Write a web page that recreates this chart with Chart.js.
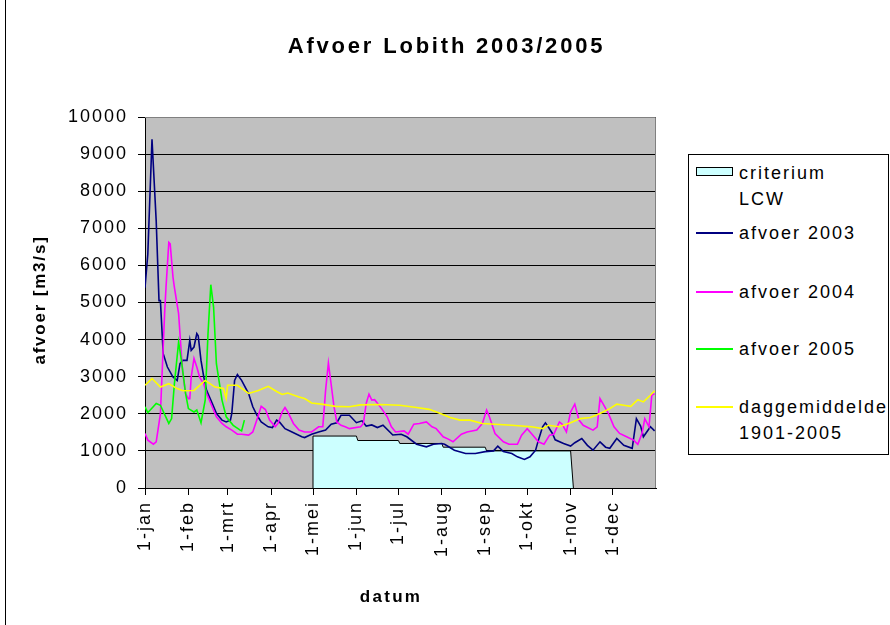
<!DOCTYPE html>
<html>
<head>
<meta charset="utf-8">
<script src="https://cdn.jsdelivr.net/npm/chart.js@4.4.0/dist/chart.umd.min.js"></script>
<style>
  body { margin: 0; background: #fff; }
  #wrap { position: relative; width: 890px; height: 625px; font-family: "Liberation Sans", Arial, sans-serif; }
  #frame { position: absolute; left: 5px; top: 0; height: 625px; border-left: 1px solid #000; }
  #legend { position: absolute; left: 688px; top: 154px; width: 201px; height: 301px; border: 1px solid #000; box-sizing: border-box; background: #fff; }
  .lbl { position: absolute; left: 50px; font-size: 18px; letter-spacing: 2px; line-height: 26px; color: #000; white-space: nowrap; }
  .sw { position: absolute; left: 7px; width: 37px; }
</style>
</head>
<body>
<div id="wrap">
  <canvas id="myChart" width="890" height="625"></canvas>
  <div id="frame"></div>
  <div id="legend"></div>
</div>
<script>
// day of year (0 = 1 jan) and discharge in m3/s
const monthStarts = [0, 31, 59, 90, 120, 151, 181, 212, 243, 273, 304, 334];
const monthLabels = ['1-jan', '1-feb', '1-mrt', '1-apr', '1-mei', '1-jun', '1-jul', '1-aug', '1-sep', '1-okt', '1-nov', '1-dec'];

const critDays = [120, 120, 151, 152, 181, 182, 212, 213, 243, 244, 304, 306];
const critVals = [0, 1400, 1400, 1280, 1280, 1200, 1200, 1100, 1100, 1000, 1000, 0];

const days2003 = [0, 2, 5, 8, 10, 11, 13, 16, 20, 23, 25, 27, 30, 32, 33, 35, 37, 38, 40, 42, 44, 48, 51, 55, 58, 61, 62, 64, 66, 69,
  74, 77, 80, 83, 88, 91, 94, 96, 100, 105, 112, 114, 119, 124, 129, 133, 137, 140, 146, 151, 155, 158, 162, 166, 170, 177,
  183, 187, 194, 201, 206, 212, 214, 221, 229, 236, 243, 249, 252, 256, 262, 266, 271, 275, 279, 281, 284, 286, 288, 291,
  293, 299, 304, 307, 312, 316, 320, 325, 329, 332, 337, 342, 348, 351, 354, 356, 361, 364];
const q2003 = [5400, 6300, 9400, 7200, 5050, 5050, 3620, 3260, 2990, 2900, 3350, 3440, 3440, 3980, 3710, 3800, 4160, 4100, 3440, 2990,
  2630, 2280, 2010, 1830, 1780, 1830, 2010, 2900, 3060, 2900, 2545, 2190, 1960, 1780, 1650, 1630, 1830, 1780, 1600, 1510,
  1380, 1360, 1450, 1510, 1560, 1720, 1760, 1960, 1960, 1760, 1810, 1670, 1700, 1630, 1690, 1430, 1450, 1380, 1180, 1110,
  1180, 1200, 1180, 1020, 930, 930, 980, 1000, 1130, 980, 930, 840, 770, 840, 1020, 1290, 1650, 1755, 1650, 1470,
  1300, 1200, 1130, 1220, 1335, 1150, 1020, 1245, 1100, 1070, 1335, 1150, 1070, 1870, 1670, 1380, 1650, 1540];

const days2004 = [0, 2, 6, 8, 11, 12, 14, 15, 17, 18, 20, 21, 24, 26, 27, 29, 31, 32, 33, 35, 37, 39, 42, 44, 48, 51, 55, 58, 62, 66,
  69, 74, 77, 81, 83, 86, 89, 93, 95, 98, 100, 102, 106, 110, 114, 119, 124, 127, 129, 131, 132, 135, 137, 140, 143, 146,
  154, 156, 158, 160, 162, 164, 169, 173, 176, 179, 185, 188, 192, 196, 201, 205, 208, 213, 217, 220, 226, 230, 237, 241,
  244, 246, 250, 256, 260, 266, 269, 273, 276, 281, 285, 289, 292, 296, 298, 301, 304, 307, 310, 313, 320, 323, 325, 327,
  331, 335, 339, 344, 349, 352, 355, 357, 360, 362, 364];
const q2004 = [1470, 1290, 1180, 1245, 2000, 2900, 4700, 5400, 6620, 6580, 5680, 5410, 4700, 3600, 3080, 2545, 2410, 2410, 2990, 3490,
  3260, 2990, 2810, 2545, 2190, 1920, 1740, 1650, 1560, 1450, 1450, 1425, 1510, 1960, 2200, 2115, 1830, 1650, 1740, 2050,
  2170, 2050, 1740, 1560, 1510, 1510, 1650, 1650, 2630, 3370, 3080, 2190, 1780, 1690, 1650, 1600, 1650, 1740, 2280, 2530,
  2370, 2380, 2140, 1920, 1650, 1510, 1540, 1450, 1720, 1740, 1780, 1650, 1600, 1380, 1310, 1245, 1450, 1510, 1560, 1740,
  2100, 1920, 1470, 1245, 1180, 1180, 1425, 1600, 1470, 1245, 1180, 1425, 1450, 1780, 1720, 1510, 2050, 2260, 1830, 1690,
  1560, 1650, 2410, 2280, 2010, 1650, 1470, 1380, 1290, 1180, 1470, 1870, 1650, 2500, 2545];

const days2005 = [0, 2, 8, 11, 17, 19, 21, 24, 26, 29, 31, 35, 37, 40, 43, 45, 47, 49, 51, 55, 58, 63, 68, 69, 71];
const q2005 = [2190, 2030, 2280, 2230, 1740, 1870, 2810, 3930, 3440, 2545, 2140, 2050, 2100, 1760, 2370, 4160, 5480, 4870, 3350, 2370,
  1920, 1690, 1560, 1540, 1830];

const daysMean = [0, 5, 11, 17, 23, 27, 35, 43, 50, 56, 58, 59, 66, 74, 81, 88, 94, 98, 102, 110, 114, 119, 126, 136, 146, 154,
  168, 182, 194, 203, 211, 218, 225, 232, 241, 262, 276, 284, 288, 296, 304, 311, 318, 325, 332, 337, 342, 347, 352, 356,
  361, 364];
const qMean = [2770, 2950, 2720, 2810, 2680, 2620, 2630, 2900, 2720, 2680, 2410, 2770, 2770, 2550, 2630, 2740, 2600, 2520, 2560, 2455,
  2410, 2290, 2260, 2200, 2190, 2240, 2250, 2230, 2170, 2120, 2010, 1900, 1830, 1830, 1740, 1690, 1650, 1600, 1690, 1650,
  1760, 1870, 1900, 2010, 2140, 2260, 2230, 2200, 2380, 2320, 2500, 2620];

const seriesNames = [['criterium', 'LCW'], ['afvoer 2003'], ['afvoer 2004'], ['afvoer 2005'], ['daggemiddelde', '1901-2005']];
const seriesColors = ['#CCFFFF', '#000080', '#FF00FF', '#00FF00', '#FFFF00'];

const pts = (xs, ys) => xs.map((x, i) => ({ x: x, y: ys[i] }));
const FONT = '"Liberation Sans", Arial, sans-serif';
const SPACING = '2px';

const excelLook = {
  id: 'excelLook',
  beforeLayout(chart) {
    chart.ctx.letterSpacing = SPACING;
  },
  beforeDraw(chart) {
    const ctx = chart.ctx;
    const a = chart.chartArea;
    ctx.letterSpacing = SPACING;
    ctx.save();
    ctx.fillStyle = '#C0C0C0';
    ctx.fillRect(a.left, a.top, a.right - a.left, a.bottom - a.top);
    ctx.restore();
  },
  afterDraw(chart) {
    const ctx = chart.ctx;
    const a = chart.chartArea;
    ctx.save();
    ctx.strokeStyle = '#808080';
    ctx.lineWidth = 1;
    ctx.beginPath();
    ctx.moveTo(a.left, a.top + 0.5);
    ctx.lineTo(a.right - 0.5, a.top + 0.5);
    ctx.lineTo(a.right - 0.5, a.bottom);
    ctx.stroke();

    ctx.fillStyle = '#000';
    ctx.textBaseline = 'middle';
    ctx.textAlign = 'center';
    ctx.letterSpacing = '2.8px';
    ctx.font = 'bold 22px ' + FONT;
    ctx.fillText('Afvoer Lobith 2003/2005', 446.5, 47);

    ctx.font = 'bold 17px ' + FONT;
    ctx.letterSpacing = '2.3px';
    ctx.fillText('datum', 391, 597);
    ctx.letterSpacing = '1.8px';
    ctx.translate(40, 301);
    ctx.rotate(-Math.PI / 2);
    ctx.fillText('afvoer [m3/s]', 1, 0);
    ctx.restore();
  }
};

const ctx = document.getElementById('myChart');

new Chart(ctx, {
  type: 'line',
  data: {
    datasets: [{
      label: 'criterium LCW',
      data: pts(critDays, critVals),
      borderColor: '#000000',
      borderWidth: 1,
      backgroundColor: seriesColors[0],
      fill: 'origin',
      order: 5
    }, {
      label: 'afvoer 2003',
      data: pts(days2003, q2003),
      borderColor: seriesColors[1],
      order: 4
    }, {
      label: 'afvoer 2004',
      data: pts(days2004, q2004),
      borderColor: seriesColors[2],
      order: 3
    }, {
      label: 'afvoer 2005',
      data: pts(days2005, q2005),
      borderColor: seriesColors[3],
      order: 2
    }, {
      label: 'daggemiddelde 1901-2005',
      data: pts(daysMean, qMean),
      borderColor: seriesColors[4],
      order: 1
    }]
  },
  options: {
    responsive: false,
    animation: false,
    events: [],
    elements: {
      point: { radius: 0 },
      line: { borderWidth: 1.6, tension: 0, fill: false }
    },
    layout: { padding: { top: 117, right: 234, bottom: 0, left: 0 } },
    plugins: {
      legend: { display: false },
      title: { display: false },
      tooltip: { enabled: false }
    },
    scales: {
      x: {
        type: 'linear',
        min: 0,
        max: 365,
        afterBuildTicks: s => { s.ticks = monthStarts.map(v => ({ value: v })); },
        afterFit: s => { s.height = 137; },
        ticks: {
          autoSkip: false,
          minRotation: 90,
          maxRotation: 90,
          padding: 6,
          color: '#000',
          font: { size: 18, family: FONT },
          callback: v => monthLabels[monthStarts.indexOf(v)]
        },
        grid: { drawOnChartArea: false, color: '#000', tickLength: 7 },
        border: { color: '#000' }
      },
      y: {
        min: 0,
        max: 10000,
        afterFit: s => { s.width = 145; },
        ticks: {
          stepSize: 1000,
          padding: 10,
          color: '#000',
          font: { size: 18, family: FONT },
          callback: v => String(v)
        },
        grid: { color: '#000', tickLength: 7 },
        border: { color: '#000' }
      }
    }
  },
  plugins: [excelLook]
});

// legend drawn as html next to the chart
const legend = document.getElementById('legend');
const rowTops = [5, 65, 123.7, 181, 238.7];
seriesNames.forEach((lines, i) => {
  const lbl = document.createElement('div');
  lbl.className = 'lbl';
  lbl.style.top = rowTops[i] + 'px';
  lbl.innerHTML = lines.join('<br>');
  legend.appendChild(lbl);
  const sw = document.createElement('div');
  sw.className = 'sw';
  if (i === 0) {
    sw.style.top = '12px';
    sw.style.height = '9px';
    sw.style.boxSizing = 'border-box';
    sw.style.border = '1px solid #000';
    sw.style.background = seriesColors[0];
  } else {
    sw.style.top = (rowTops[i] + 12) + 'px';
    sw.style.height = '2px';
    sw.style.background = seriesColors[i];
  }
  legend.appendChild(sw);
});
</script>
</body>
</html>
